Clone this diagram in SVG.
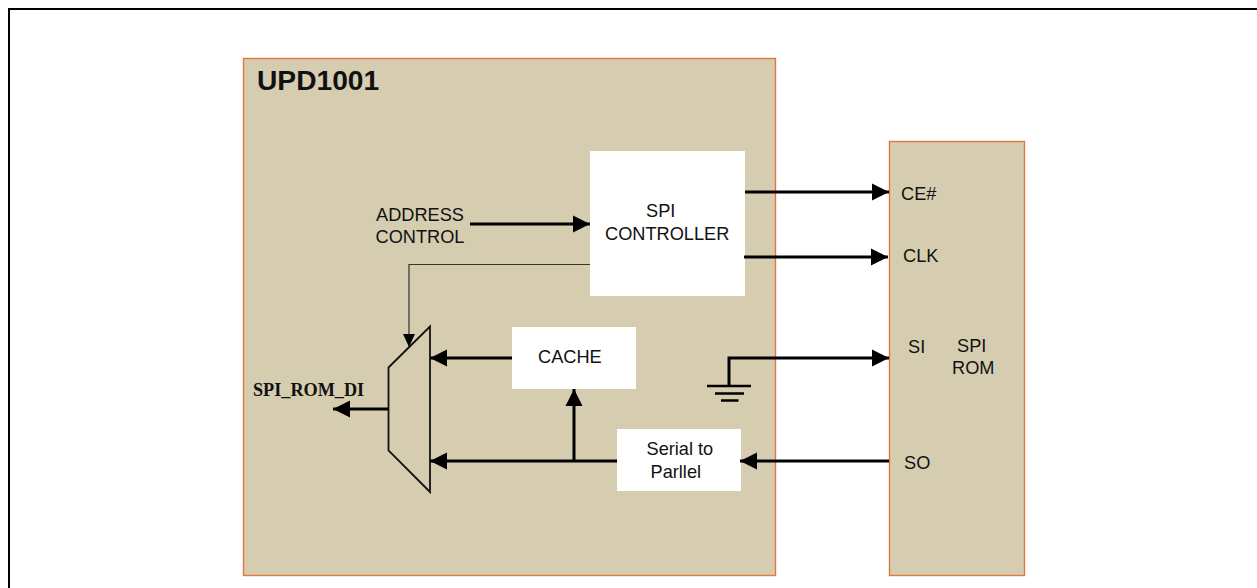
<svg xmlns="http://www.w3.org/2000/svg" width="1257" height="588" viewBox="0 0 1257 588">
<style>
text{font-family:"Liberation Sans",Arial,sans-serif;font-size:18.200px;fill:#111}
.chip{fill:#d6cdb0;stroke:#e0783f;stroke-width:1.400}
.blk{fill:#fff}
.w{fill:none;stroke:#000;stroke-width:3}
.t{fill:none;stroke:#333;stroke-width:1.200}
</style>
<defs>
<marker id="a" markerUnits="userSpaceOnUse" markerWidth="18" markerHeight="18" refX="17" refY="9" orient="auto"><path d="M0 0.5L17 9L0 17.5Z" fill="#000"/></marker>
<marker id="b" markerUnits="userSpaceOnUse" markerWidth="14" markerHeight="14" refX="13" refY="6.5" orient="auto"><path d="M0 0.5L13 6.5L0 12.5Z" fill="#000"/></marker>
</defs>
<rect id="frame" x="9" y="9" width="1254" height="590" fill="#fff" stroke="#000" stroke-width="2"/>
<g id="upd1001"><rect class="chip" x="243.500" y="58.500" width="532" height="517"/><text x="257" y="90" style="font-size:28.200px;font-weight:bold">UPD1001</text></g>
<g id="spi-rom"><rect class="chip" x="889.500" y="141.500" width="135" height="434"/>
<text x="901" y="200">CE#</text><text x="903" y="262">CLK</text><text x="908" y="353">SI</text><text x="957" y="352">SPI</text><text x="952" y="374">ROM</text><text x="904" y="469">SO</text></g>
<g id="spi-controller"><rect class="blk" x="590" y="151" width="155" height="145"/><text x="646" y="217">SPI</text><text x="605" y="240">CONTROLLER</text></g>
<g id="cache"><rect class="blk" x="512" y="327" width="124" height="62"/><text x="538" y="363">CACHE</text></g>
<g id="serial-to-parllel"><rect class="blk" x="617" y="429" width="124" height="62"/><text x="646.500" y="455">Serial to</text><text x="650.500" y="478">Parllel</text></g>
<g id="mux"><path d="M388.500 367.500L430 326.500V492L388.500 450.500Z" fill="none" stroke="#111" stroke-width="1.800"/></g>
<g id="address-control"><text x="376" y="220.500">ADDRESS</text><text x="375.500" y="243">CONTROL</text></g>
<g id="spi-rom-di"><text x="253" y="396" style="font-family:'Liberation Serif',serif;font-size:18.200px;font-weight:bold">SPI_ROM_DI</text></g>
<g id="ground"><path d="M707 386H751M715 393.500H744M721 400.500H738.500" fill="none" stroke="#000" stroke-width="2.500"/></g>
<g id="connectors">
<path class="w" marker-end="url(#a)" d="M745 192H889"/>
<path class="w" marker-end="url(#a)" d="M744 257H888"/>
<path class="w" marker-end="url(#a)" d="M729 385V358H889"/>
<path class="w" marker-end="url(#a)" d="M889 461H740"/>
<path class="w" marker-end="url(#a)" d="M470 224H590"/>
<path class="w" marker-end="url(#a)" d="M512 358H430"/>
<path class="w" marker-end="url(#a)" d="M617 461H430"/>
<path class="w" marker-end="url(#a)" d="M574 461V389"/>
<path class="w" marker-end="url(#a)" d="M388 409H333"/>
<path class="t" marker-end="url(#b)" d="M590 264.500H409V347"/>
</g>
</svg>
